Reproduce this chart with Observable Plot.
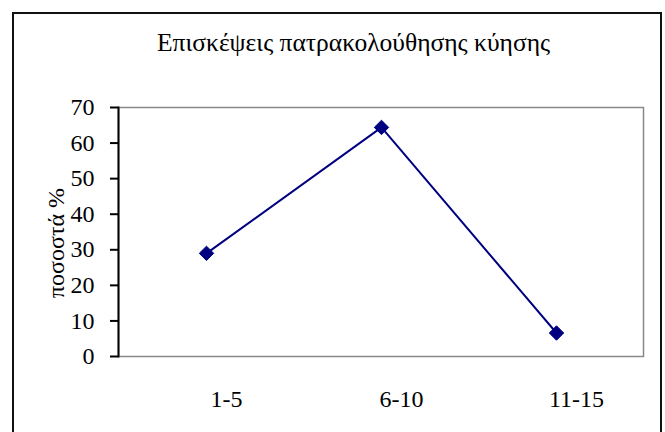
<!DOCTYPE html>
<html>
<head>
<meta charset="utf-8">
<script src="https://cdn.jsdelivr.net/npm/d3@7"></script>
<script src="https://cdn.jsdelivr.net/npm/@observablehq/plot@0.6"></script>
<style>
  html, body { margin: 0; padding: 0; background: #fff; width: 665px; height: 432px; overflow: hidden; }
  #wrap { position: relative; width: 665px; height: 432px; }
  #border { position: absolute; left: 12px; top: 12px; width: 650px; height: 440px; box-sizing: border-box; border: 2px solid #111; }
  #title { position: absolute; left: 157px; top: 31px; white-space: nowrap; font-family: 'Liberation Serif', serif; font-size: 25.5px; line-height: 24px; color: #000; }
  #chart { position: absolute; left: 0; top: 0; }
  #chart svg text { font-family: 'Liberation Serif', serif; }
</style>
</head>
<body>
<div id="wrap">
  <div id="border"></div>
  <div id="title"></div>
  <div id="chart"></div>
</div>
<script>
const titleText = "Επισκέψεις πατρακολούθησης κύησης";
const yLabel = "ποσοστά %";
const categories = ["1-5", "6-10", "11-15"];
const values = [29, 64.4, 6.6];
const yTicks = [0, 10, 20, 30, 40, 50, 60, 70];

const data = categories.map((c, i) => ({cat: c, val: values[i]}));
document.getElementById("title").textContent = titleText;

const serif = "'Liberation Serif', serif";
const navy = "#000080";
const chart = Plot.plot({
  width: 665,
  height: 432,
  marginLeft: 118,
  marginRight: 22,
  marginTop: 107,
  marginBottom: 76,
  style: {fontFamily: serif, fontSize: "24px", background: "transparent", color: "#000", overflow: "visible"},
  x: {type: "point", domain: categories, padding: 0.5, label: null},
  y: {domain: [0, 70], label: null},
  marks: [
    Plot.frame({stroke: "#888", strokeWidth: 1.5}),
    Plot.frame({anchor: "left", stroke: "#000", strokeWidth: 2}),
    Plot.axisY(yTicks, {tickSize: 8, tickPadding: 16, strokeWidth: 2, stroke: "#000", label: null, fontSize: 24, fontFamily: serif}),
    Plot.axisX({tickSize: 0, tickPadding: 33, dx: 20, label: null, fontSize: 24, fontFamily: serif}),
    Plot.text([yLabel], {frameAnchor: "left", textAnchor: "middle", dx: -72, dy: 11, rotate: -90, lineAnchor: "top", text: d => d, fontSize: 24, fontFamily: serif, fill: "#000"}),
    Plot.line(data, {x: "cat", y: "val", stroke: navy, strokeWidth: 2}),
    Plot.dot(data, {x: "cat", y: "val", symbol: "diamond2", r: 6.5, fill: navy, stroke: navy, strokeWidth: 1})
  ]
});
document.getElementById("chart").appendChild(chart);
</script>
</body>
</html>
